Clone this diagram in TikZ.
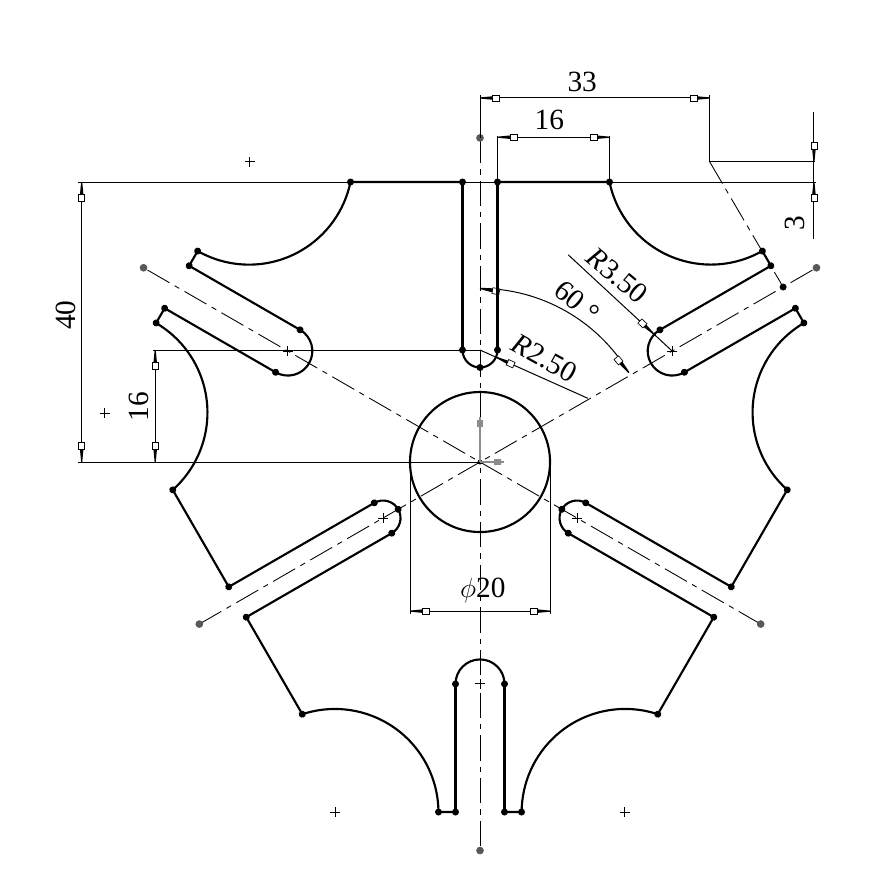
\documentclass[tikz,border=0pt]{standalone}
\usepackage{fontspec}
\setmainfont{Liberation Serif}
\tikzset{
    profile/.style={line width=1.6pt,line join=round},
    boldedge/.style={line width=2.2pt},
    thinline/.style={line width=0.75pt},
    centerline/.style={line width=0.65pt,dash pattern=on 19pt off 4.5pt on 4pt off 4.5pt},
    dimlabel/.style={font=\fontsize{22}{22}\selectfont,inner sep=0pt},
    dimtip/.pic={
        \fill (0,0.08) -- (1.9,0.26) -- (1.9,-0.26) -- (0,-0.08) -- cycle;
        \draw[line width=0.5pt,fill=white] (1.8,-0.42) rectangle (2.8,0.42);
    }
}
\newcommand{\markcross}[1]{\draw[thinline] (#1)+(-0.7,0) -- +(0.7,0) (#1)+(0,-0.7) -- +(0,0.7);}
\begin{document}
\begin{tikzpicture}[x=5.25pt,y=5.25pt]
    \useasboundingbox (-68.57,-59.14) rectangle (57.71,66);
    \coordinate (ctr) at (0,0);
    \coordinate (slotTop) at (0,16);
    \coordinate (slotRight) at (30:31.7);
    \coordinate (dimPt) at (32.8,42.9);
    \coordinate (axisEnd) at (30:50);

    % center lines
    \foreach \a in {90,210,330} {
        \coordinate (farA) at (\a:46.3);
        \coordinate (farB) at (\a+180:55.5);
        \draw[centerline] (farA) -- (farB);
        \fill[black!65] (farA) circle (0.55) (farB) circle (0.55);
    }
    \draw[centerline] (dimPt) -- (axisEnd);

    % extension lines
    \draw[thinline] (-57.4,40) -- (48,40);
    \draw[thinline] (-57.4,0) -- (ctr);
    \draw[thinline] (-46.7,16) -- (slotTop);
    \draw[thinline] (0,52.4) -- (0,46.3);
    \draw[thinline] (32.8,52.4) -- (dimPt) -- (47.9,42.9);
    \draw[thinline] (2.5,46.6) -- (2.5,40);
    \draw[thinline] (18.5,46.6) -- (18.5,40);
    \draw[thinline] (-10,0) -- (-10,-21.7);
    \draw[thinline] (10,0) -- (10,-21.7);
    \draw[thinline] (0,10) -- (0,6.5);

    % dimension lines
    \draw[thinline] (0,52) -- (32.8,52);
    \draw[thinline] (2.5,46.4) -- (18.5,46.4);
    \draw[thinline] (47.7,50) -- (47.7,31.9);
    \draw[thinline] (-56.9,40) -- (-56.9,0);
    \draw[thinline] (-46.4,16) -- (-46.4,0);
    \draw[thinline] (-10,-21.3) -- (10,-21.3);
    \draw[thinline] (0,24.8) arc (90:31:24.8);
    \draw[thinline] (12.6,29.6) -- (slotRight);
    \draw[thinline] (slotTop) -- (15.4,9.1);
    \foreach \x/\y/\r in {0/52/0,32.8/52/180,2.5/46.4/0,18.5/46.4/180,47.7/42.9/90,47.7/40/-90,
        -56.9/40/-90,-56.9/0/90,-46.4/16/-90,-46.4/0/90,-10/-21.3/0,10/-21.3/180,
        0/24.8/-10,21.26/12.77/130,24.88/18.23/137,2.28/14.98/-24} {
        \pic[rotate=\r] at (\x,\y) {dimtip};
    }

    % profile, three times round
    \foreach \a in {0,120,240} {
        \begin{scope}[rotate=\a]
            \draw[profile] (-40.33,30.14) arc (-119.7:-11.7:14.8) -- (-2.5,40) -- (-2.5,16)
                arc (180:360:2.5) -- (2.5,40) -- (18.5,40) arc (191.7:299.7:14.8);
            \foreach \x/\y in {-18.5/40,-2.5/40,2.5/40,18.5/40,-2.5/16,2.5/16,0/13.5} {
                \fill (\x,\y) circle (0.5);
            }
        \end{scope}
        \begin{scope}[rotate=\a-60]
            \draw[profile] (-5.93,50) -- (-3.5,50) -- (-3.5,31.7)
                arc (180:360:3.5) -- (3.5,50) -- (5.93,50);
            \foreach \x/\y in {-5.93/50,-3.5/50,3.5/50,5.93/50,-3.5/31.7,3.5/31.7} {
                \fill (\x,\y) circle (0.5);
            }
        \end{scope}
    }
    \draw[profile,boldedge] (-18.5,40) -- (-2.5,40) (-2.5,40) -- (-2.5,16) (2.5,16) -- (2.5,40) (2.5,40) -- (18.5,40);
    \draw[profile,boldedge] (-3.5,-31.7) -- (-3.5,-50) (3.5,-31.7) -- (3.5,-50);
    \draw[profile] (ctr) circle (10);
    \fill (axisEnd) circle (0.5);
    \fill (ctr) circle (0.35);

    % small axes at the origin
    \draw[black!45,line width=0.9pt] (ctr) -- (0,6.5) (ctr) -- (3.4,0);
    \fill[black!45] (-0.4,5) rectangle (0.4,6) (2,-0.4) rectangle (3,0.4);

    % centre marks
    \markcross{-32.9,42.9}
    \markcross{-53.6,7}
    \markcross{-20.7,-50}
    \markcross{20.7,-50}
    \foreach \a in {30,150,270} {
        \markcross{\a:31.7}
    }
    \foreach \a in {210,330} {
        \markcross{\a:16}
    }

    % labels
    \node[dimlabel] (lab33) at (14.6,54.3) {33};
    \node[dimlabel] (lab16top) at (9.9,48.9) {16};
    \node[dimlabel,rotate=90] (lab3) at (45,34.1) {3};
    \node[dimlabel,rotate=90] (lab40) at (-59.1,21) {40};
    \node[dimlabel,rotate=90] (lab16left) at (-48.7,7.9) {16};
    \node[dimlabel] (labDia) at (0.4,-18.4) {$\phi$20};
    \node[dimlabel,rotate=-40] (lab60) at (13.9,22.9) {60 °};
    \node[dimlabel,rotate=-40] (labBig) at (19.6,26.6) {\textit{R}3.50};
    \node[dimlabel,rotate=-29] (labSmall) at (9.2,14.8) {\textit{R}2.50};
\end{tikzpicture}
\end{document}
